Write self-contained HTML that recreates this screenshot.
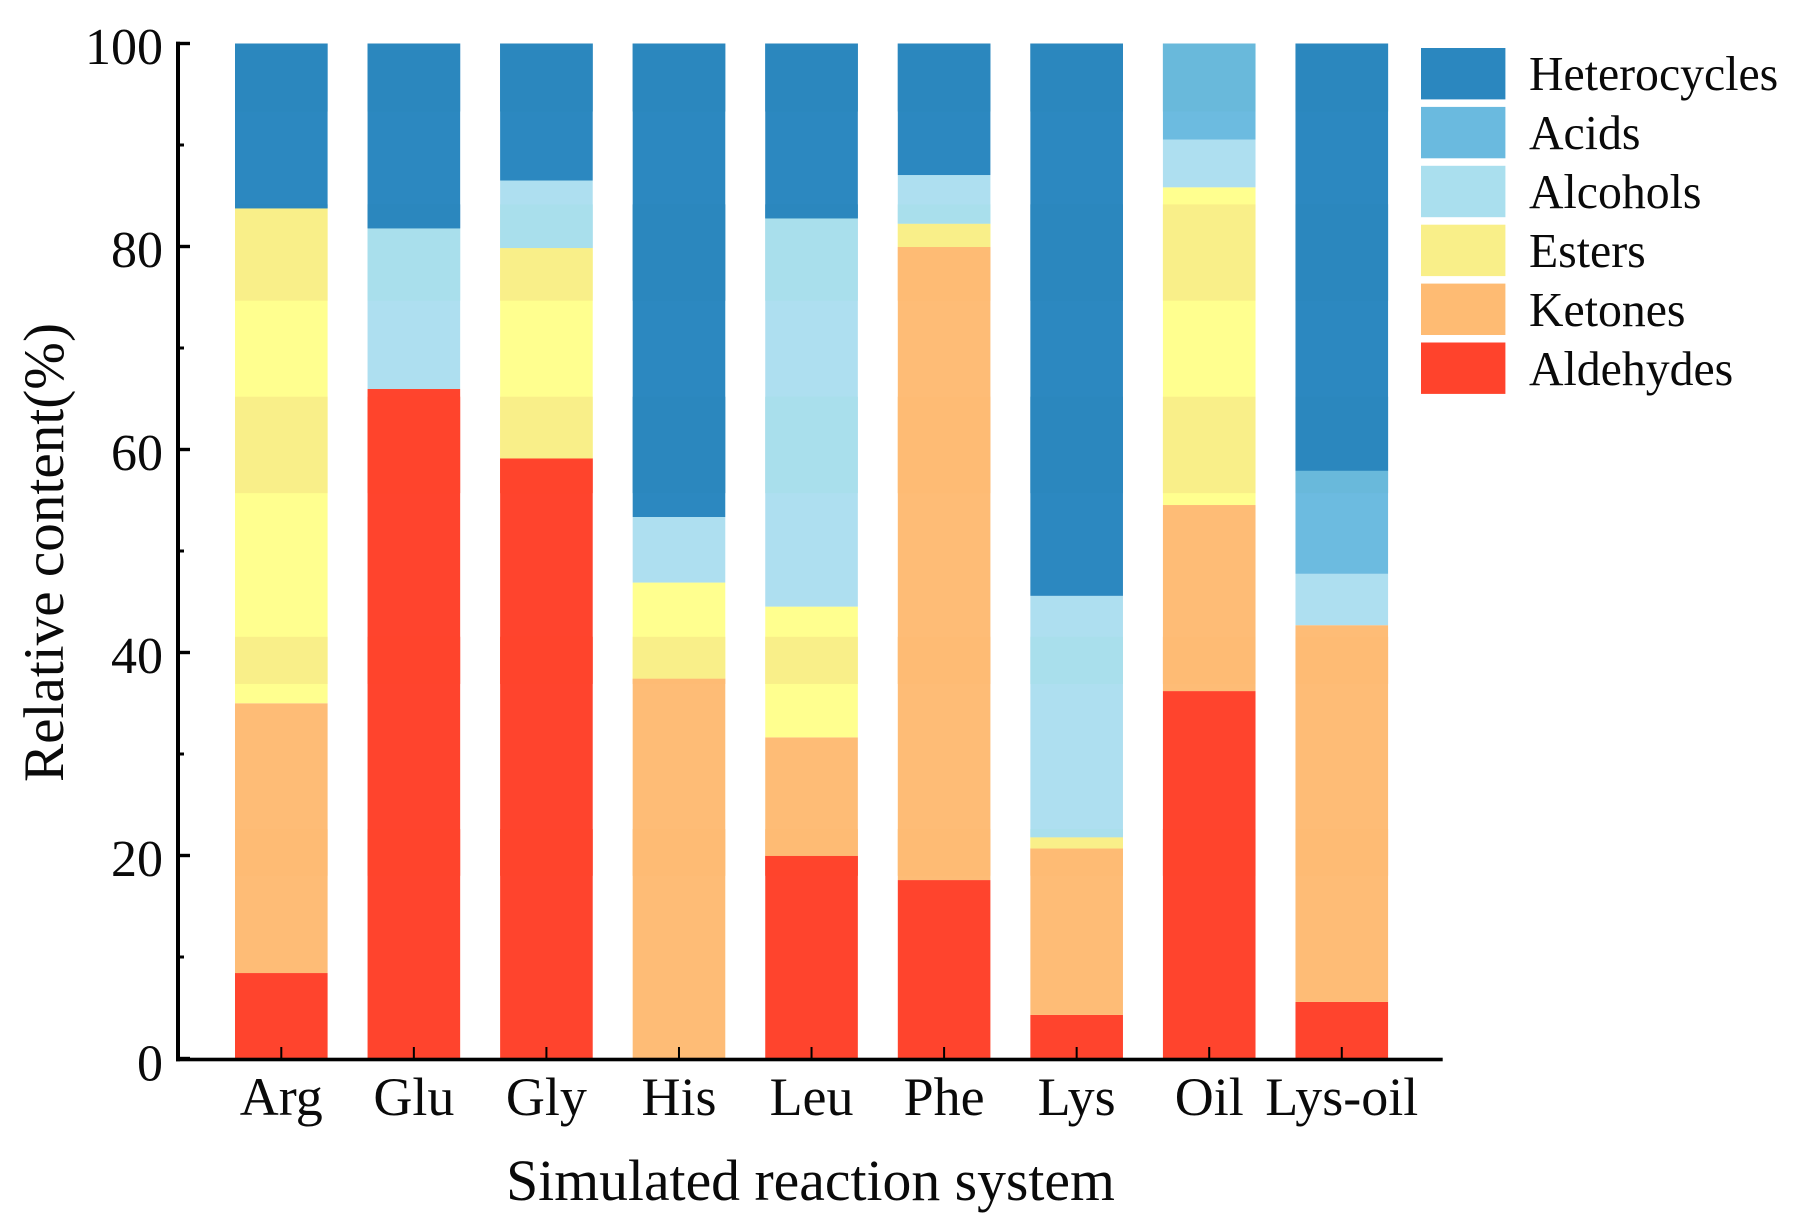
<!DOCTYPE html>
<html lang="en">
<head>
<meta charset="utf-8">
<title>Relative content by simulated reaction system</title>
<style>
html,body{margin:0;padding:0;background:#fff;}
svg{display:block;}
text{font-family:"Liberation Serif",serif;fill:#0a0a0a;}
</style>
</head>
<body>
<svg id="chart" width="1794" height="1230" viewBox="0 0 1794 1230" xmlns="http://www.w3.org/2000/svg">
  <rect x="0" y="0" width="1794" height="1230" fill="#ffffff"/>
  <g id="bars"></g>
  <g id="axes"></g>
  <g id="legend"></g>
  <text x="810.5" y="1200" font-size="57.7" text-anchor="middle">Simulated reaction system</text>
  <text transform="translate(63,552.5) rotate(-90)" font-size="57" text-anchor="middle" textLength="459" lengthAdjust="spacingAndGlyphs">Relative content(%)</text>
</svg>
<script>
const categories = ['Arg', 'Glu', 'Gly', 'His', 'Leu', 'Phe', 'Lys', 'Oil', 'Lys-oil'];
const seriesNames = ['Aldehydes', 'Ketones', 'Esters', 'Alcohols', 'Acids', 'Heterocycles'];
const aldehydes = [8.42, 65.96, 59.13, 0, 19.97, 17.58, 4.29, 36.2, 5.57];
const ketones = [26.58, 0, 0, 37.43, 11.67, 62.37, 16.41, 18.33, 37.12];
const esters = [48.76, 0, 20.72, 9.46, 12.88, 2.3, 1.1, 31.3, 0];
const alcohols = [0, 15.83, 6.65, 6.46, 38.25, 4.79, 23.78, 4.7, 5.06];
const acids = [0, 0, 0, 0, 0, 0, 0, 9.47, 10.16];
const heterocycles = [16.24, 18.21, 13.5, 46.65, 17.23, 12.96, 54.42, 0, 42.09];
const seriesValues = [aldehydes, ketones, esters, alcohols, acids, heterocycles];
const baseColors = ['#ff442d', '#febc76', '#ffff8f', '#aedff0', '#6cbbe0', '#2c88c0'];
const shadeColors = ['#ff442c', '#febb74', '#f9ef89', '#a9dfec', '#69b9db', '#2b87be'];
const shadeBands = [[18, 22.6], [36.9, 41.55], [55.7, 65.2], [74.66, 84.15], [93.3, 100]];
const majorTicks = [0, 20, 40, 60, 80, 100];
const minorTicks = [10, 30, 50, 70, 90];
const legendOrder = ['Heterocycles', 'Acids', 'Alcohols', 'Esters', 'Ketones', 'Aldehydes'];
const legendColors = ['#2b87bf', '#6abadf', '#aadfee', '#f9ef89', '#febb73', '#ff432c'];

const NS = 'http://www.w3.org/2000/svg';
const Y0 = 1058.5, Y_PER_UNIT = 10.15;
const X0 = 281.3, X_STEP = 132.56, BAR_W = 92.6;
function yScale(v) { return Y0 - v * Y_PER_UNIT; }
function xScale(i) { return X0 + i * X_STEP; }

function makeRect(parent, x, y, w, h, fill) {
  const r = document.createElementNS(NS, 'rect');
  r.setAttribute('x', x);
  r.setAttribute('y', y);
  r.setAttribute('width', w);
  r.setAttribute('height', h);
  r.setAttribute('fill', fill);
  parent.appendChild(r);
  return r;
}
function makeText(parent, x, y, size, anchor, content) {
  const t = document.createElementNS(NS, 'text');
  t.setAttribute('x', x);
  t.setAttribute('y', y);
  t.setAttribute('font-size', size);
  t.setAttribute('text-anchor', anchor);
  t.textContent = content;
  parent.appendChild(t);
  return t;
}

const barsG = document.getElementById('bars');
categories.forEach(function (cat, c) {
  let cum = 0;
  const left = xScale(c) - BAR_W / 2;
  seriesValues.forEach(function (vals, s) {
    const lo = cum, hi = cum + vals[c];
    cum = hi;
    if (vals[c] <= 0) return;
    const seg = makeRect(barsG, left, yScale(hi), BAR_W, yScale(lo) - yScale(hi), baseColors[s]);
    
    
    shadeBands.forEach(function (band) {
      const a = Math.max(lo, band[0]), b = Math.min(hi, band[1]);
      if (b <= a) return;
      const sh = makeRect(barsG, left, yScale(b), BAR_W, yScale(a) - yScale(b), shadeColors[s]);
      
      
    });
  });
});

const axesG = document.getElementById('axes');
const yLine = makeRect(axesG, 176, 41.7, 4, 1019.6, '#000');


const xLine = makeRect(axesG, 176, 1057.7, 1266.7, 3.6, '#000');



majorTicks.forEach(function (v) {
  const y = yScale(v);
  const tick = makeRect(axesG, 176, y - 1.7, 14, 3.4, '#000');
  
  
  const label = makeText(axesG, 163, v === 0 ? y + 22 : y + 20.5, 52, 'end', String(v));
  
  
});
minorTicks.forEach(function (v) {
  const tick = makeRect(axesG, 176, yScale(v) - 1.5, 8, 3, '#000');
  
  
});
categories.forEach(function (cat, c) {
  const x = xScale(c);
  const tick = makeRect(axesG, x - 1, 1047, 2, 11.5, '#000');
  
  
  const label = makeText(axesG, x, 1115, 54, 'middle', cat);
  
  
});

const legendG = document.getElementById('legend');
legendOrder.forEach(function (name, i) {
  const top = 48 + i * 58.9;
  const swatch = makeRect(legendG, 1421, top, 84.4, 51.4, legendColors[i]);
  
  
  const label = makeText(legendG, 0, 0, 49, 'start', name);
  label.setAttribute('transform', 'translate(1529,' + (90 + i * 59) + ') scale(0.975,1)');
  
  
});
</script>
</body>
</html>
